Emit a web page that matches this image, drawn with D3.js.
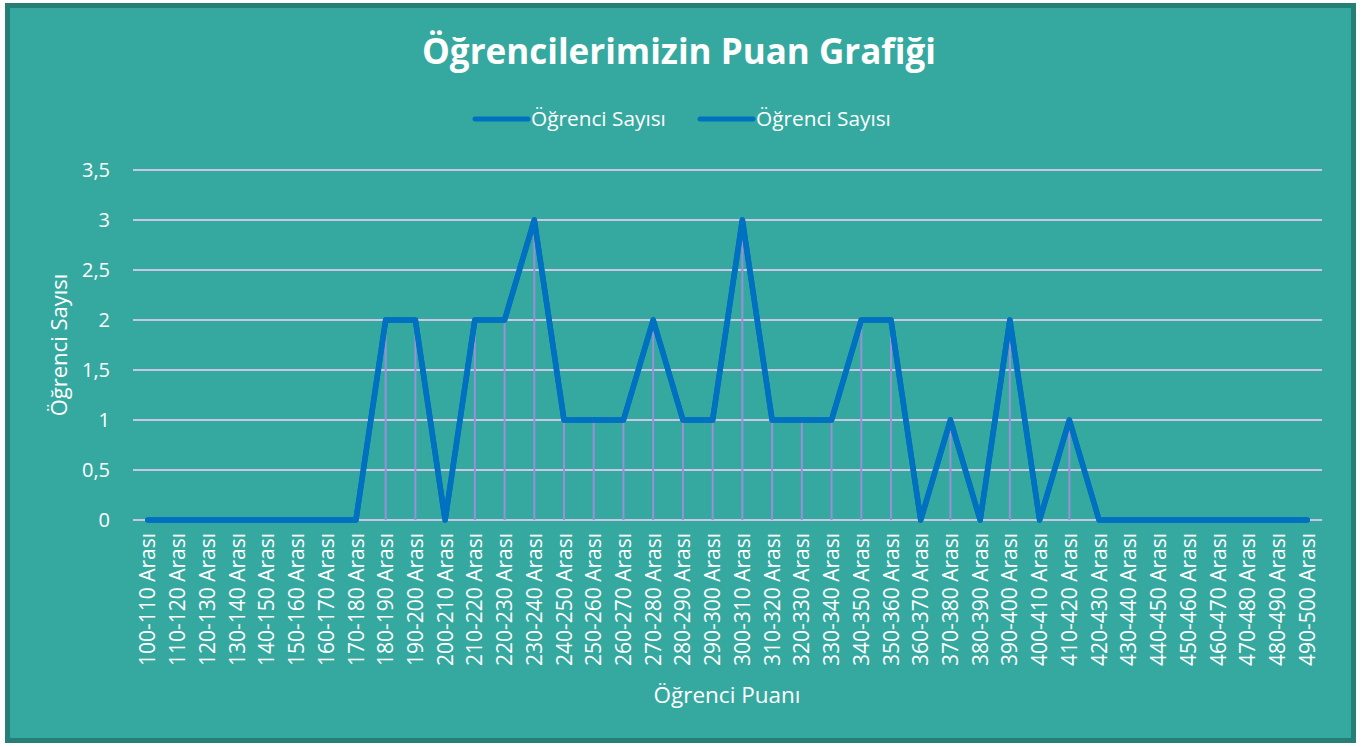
<!DOCTYPE html>
<html><head><meta charset="utf-8">
<script src="https://cdn.jsdelivr.net/npm/d3@7/dist/d3.min.js"></script>
<style>body{margin:0;background:#fff;}svg{display:block;} text{font-family:"Open Sans",sans-serif;}</style>
</head><body>
<svg id="c" width="1363" height="747"></svg>
<script>
const categories = ["100-110 Arası","110-120 Arası","120-130 Arası","130-140 Arası","140-150 Arası","150-160 Arası","160-170 Arası","170-180 Arası","180-190 Arası","190-200 Arası","200-210 Arası","210-220 Arası","220-230 Arası","230-240 Arası","240-250 Arası","250-260 Arası","260-270 Arası","270-280 Arası","280-290 Arası","290-300 Arası","300-310 Arası","310-320 Arası","320-330 Arası","330-340 Arası","340-350 Arası","350-360 Arası","360-370 Arası","370-380 Arası","380-390 Arası","390-400 Arası","400-410 Arası","410-420 Arası","420-430 Arası","430-440 Arası","440-450 Arası","450-460 Arası","460-470 Arası","470-480 Arası","480-490 Arası","490-500 Arası"];
const series1 = [0,0,0,0,0,0,0,0,2,2,0,2,2,3,1,1,1,2,1,1,3,1,1,1,2,2,0,1,0,2,0,1,0,0,0,0,0,0,0,0];
const series2 = [0,0,0,0,0,0,0,0,2,2,0,2,2,3,1,1,1,2,1,1,3,1,1,1,2,2,0,1,0,2,0,1,0,0,0,0,0,0,0,0];
const seriesNames = ["Öğrenci Sayısı","Öğrenci Sayısı"];
const yTicks = [0,0.5,1,1.5,2,2.5,3,3.5];
const title = "Öğrencilerimizin Puan Grafiği";
const xTitle = "Öğrenci Puanı";
const yTitle = "Öğrenci Sayısı";

const svg = d3.select("#c");
svg.append("rect").attr("x",7.5).attr("y",5.5).attr("width",1346).attr("height",735)
  .attr("fill","#35A9A0").attr("stroke","#267F77").attr("stroke-width",5);

const m={l:133,r:1322,t:170,b:520};
const x=d3.scaleBand().domain(categories).range([m.l,m.r]);
const y=d3.scaleLinear().domain([0,3.5]).range([m.b,m.t]);
const cx=d=>x(d)+x.bandwidth()/2;

svg.append("g").selectAll("line").data(yTicks).join("line")
  .attr("x1",m.l).attr("x2",m.r).attr("y1",d=>y(d)).attr("y2",d=>y(d))
  .attr("stroke","#C9C6E6").attr("stroke-width",2);

const fmt=d=>String(d).replace(".",",");
const ya=svg.append("g").attr("transform",`translate(${m.l},0)`)
  .call(d3.axisLeft(y).tickValues(yTicks).tickFormat(fmt).tickSize(0).tickPadding(23));
ya.select(".domain").remove();
ya.selectAll("text").attr("fill","#fff").attr("font-size",20).attr("font-family","'Open Sans',sans-serif");

const drops=series1.map((v,i)=>({c:categories[i],v:Math.max(v,series2[i])})).filter(d=>d.v>0);
svg.append("g").selectAll("line").data(drops).join("line")
  .attr("x1",d=>cx(d.c)).attr("x2",d=>cx(d.c)).attr("y1",d=>y(d.v)).attr("y2",y(0))
  .attr("stroke","#9A8FDA").attr("stroke-width",2);

const line=d3.line().x((d,i)=>cx(categories[i])).y(d=>y(d));
[series1,series2].forEach(s=>{
  svg.append("path").datum(s).attr("d",line).attr("fill","none")
    .attr("stroke","#0070C0").attr("stroke-width",5.5).attr("stroke-linejoin","round").attr("stroke-linecap","round");
});

const xa=svg.append("g").attr("transform",`translate(0,${m.b})`)
  .call(d3.axisBottom(x).tickSize(0).tickPadding(0));
xa.select(".domain").remove();
xa.selectAll("text").attr("fill","#fff").attr("font-size",21).attr("font-family","'Open Sans',sans-serif")
  .attr("transform","rotate(-90)").attr("text-anchor","end").attr("dy","0.36em").attr("x",-13).attr("y",0);

svg.append("text").attr("x",679).attr("y",64).attr("text-anchor","middle").attr("fill","#fff")
  .attr("font-size",35).attr("font-weight","bold").text(title);
svg.append("text").attr("x",727).attr("y",703).attr("text-anchor","middle").attr("fill","#fff")
  .attr("font-size",22.5).text(xTitle);
svg.append("text").attr("transform","translate(67,345) rotate(-90)").attr("text-anchor","middle").attr("fill","#fff")
  .attr("font-size",22).text(yTitle);

const lg=[{x:473,n:seriesNames[0]},{x:698,n:seriesNames[1]}];
lg.forEach(l=>{
  svg.append("line").attr("x1",l.x+2).attr("x2",l.x+55).attr("y1",119).attr("y2",119)
    .attr("stroke","#0070C0").attr("stroke-width",5).attr("stroke-linecap","round");
  svg.append("text").attr("x",l.x+58).attr("y",126).attr("fill","#fff").attr("font-size",20.8).text(l.n);
});
</script>
</body></html>
